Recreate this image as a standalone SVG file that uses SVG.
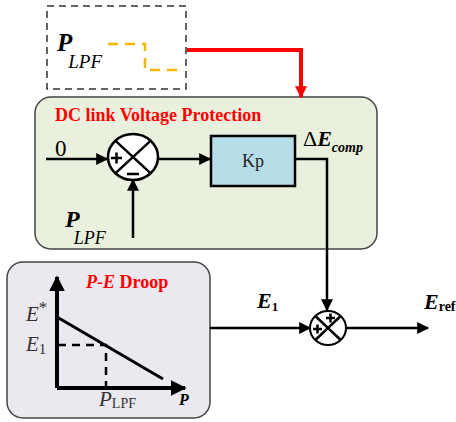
<svg xmlns="http://www.w3.org/2000/svg" width="456" height="422" viewBox="0 0 456 422">
<defs>
<style>
.serif{font-family:"Liberation Serif","Times New Roman",serif;}
.ln{stroke:#000;stroke-width:2.5;fill:none;}
.red{fill:#ff0000;font-weight:bold;font-size:18px;}
</style>
<marker id="ah" viewBox="0 0 10 10" refX="9" refY="5" markerWidth="13" markerHeight="12" markerUnits="userSpaceOnUse" orient="auto"><path d="M0,0 L10,5 L0,10 z" fill="#000"/></marker>
<marker id="ahr" viewBox="0 0 10 10" refX="9" refY="5" markerWidth="13" markerHeight="12" markerUnits="userSpaceOnUse" orient="auto"><path d="M0,0 L10,5 L0,10 z" fill="#ff0000"/></marker>
<marker id="ahb" viewBox="0 0 10 10" refX="9" refY="5" markerWidth="16" markerHeight="17" markerUnits="userSpaceOnUse" orient="auto"><path d="M0,0 L10,5 L0,10 z" fill="#000"/></marker>
</defs>

<g id="plpf-input">
<rect x="47" y="6" width="139" height="83" fill="#fff" stroke="#333" stroke-width="1.5" stroke-dasharray="7,5"/>
<text class="serif" x="57" y="51" font-style="italic"><tspan font-size="25" font-weight="bold">P</tspan><tspan font-size="19" dx="-4" dy="17">LPF</tspan></text>
<path d="M108,44 H145 V70 H178" fill="none" stroke="#f5b800" stroke-width="2.5" stroke-dasharray="10,7"/>
</g>

<g id="dc-protection">
<rect x="35" y="97" width="342" height="152" rx="16" fill="#e9f0dd" stroke="#444" stroke-width="1.5"/>
<text class="serif red" x="55" y="121">DC link Voltage Protection</text>
</g>

<g id="sum1">
<ellipse cx="133" cy="157" rx="25" ry="23" fill="#fff" stroke="#000" stroke-width="2.5"/>
<path d="M115.3,140.7 L150.7,173.3 M150.7,140.7 L115.3,173.3" class="ln" stroke-width="2"/>
<path d="M111,158 H122 M116.5,152.5 V163.5" class="ln" stroke-width="2.5"/>
<path d="M127,174 H139" class="ln" stroke-width="2.5"/>
</g>

<g id="kp">
<rect x="211" y="136" width="84" height="50" fill="#b7dde8" stroke="#000" stroke-width="2.5"/>
<text class="serif" x="253" y="167" font-size="18" text-anchor="middle" fill="#222">Kp</text>
</g>

<g id="sum2">
<ellipse cx="328" cy="328" rx="18" ry="17" fill="#fff" stroke="#000" stroke-width="2"/>
<path d="M315.3,316 L340.7,340 M340.7,316 L315.3,340" class="ln" stroke-width="1.8"/>
<path d="M326,318 H335 M330.5,313.5 V322.5" class="ln" stroke-width="2.2"/>
<path d="M313,329 H322 M317.5,324.5 V333.5" class="ln" stroke-width="2.2"/>
</g>

<g id="droop">
<rect x="7" y="262" width="203" height="156" rx="16" fill="#ebe8ef" stroke="#444" stroke-width="1.5"/>
<text class="serif red" x="86" y="288"><tspan font-style="italic">P-E</tspan> Droop</text>
<line x1="57" y1="388" x2="57" y2="277" stroke="#000" stroke-width="4" marker-end="url(#ahb)"/>
<line x1="57" y1="388" x2="185" y2="388" stroke="#000" stroke-width="4" marker-end="url(#ahb)"/>
<line x1="57" y1="317" x2="163" y2="379" stroke="#000" stroke-width="3"/>
<path d="M58,345 H106 V388" fill="none" stroke="#000" stroke-width="2.5" stroke-dasharray="8,6"/>
<text class="serif" x="26" y="321" font-size="21" font-style="italic" fill="#333">E<tspan font-style="normal" font-size="17" dy="-8">*</tspan></text>
<text class="serif" x="26" y="351" font-size="21" font-style="italic" fill="#333">E<tspan font-style="normal" font-size="15" dy="3">1</tspan></text>
<text class="serif" x="99" y="406" font-size="21" font-style="italic" fill="#333">P<tspan font-style="normal" font-size="14" dy="2">LPF</tspan></text>
<text class="serif" x="179" y="405" font-size="16" font-weight="bold" font-style="italic">P</text>
</g>

<g id="connectors">
<path d="M187,50 H301 V97" fill="none" stroke="#ff0000" stroke-width="4" marker-end="url(#ahr)"/>
<line x1="46" y1="159" x2="107" y2="159" class="ln" marker-end="url(#ah)"/>
<line x1="133" y1="238" x2="133" y2="180" class="ln" marker-end="url(#ah)"/>
<line x1="158" y1="159" x2="210" y2="159" class="ln" marker-end="url(#ah)"/>
<path d="M295,159 H327 V310" class="ln" marker-end="url(#ah)"/>
<line x1="210" y1="328" x2="310" y2="328" class="ln" marker-end="url(#ah)"/>
<line x1="346" y1="328" x2="428" y2="328" class="ln" marker-end="url(#ah)"/>
</g>

<g id="labels">
<text class="serif" x="55" y="156" font-size="23">0</text>
<text class="serif" x="65" y="227" font-style="italic"><tspan font-size="24" font-weight="bold">P</tspan><tspan font-size="18" dx="-6" dy="17">LPF</tspan></text>
<text class="serif" x="303" y="146" font-size="22"><tspan>Δ</tspan><tspan font-style="italic" font-weight="bold">E</tspan><tspan font-style="italic" font-weight="bold" font-size="14" dy="6">comp</tspan></text>
<text class="serif" x="257" y="308" font-size="22" font-weight="bold" font-style="italic">E<tspan font-style="normal" font-size="13" dy="3">1</tspan></text>
<text class="serif" x="424" y="309" font-size="22" font-weight="bold" font-style="italic">E<tspan font-style="normal" font-size="14" dy="2">ref</tspan></text>
</g>
</svg>
